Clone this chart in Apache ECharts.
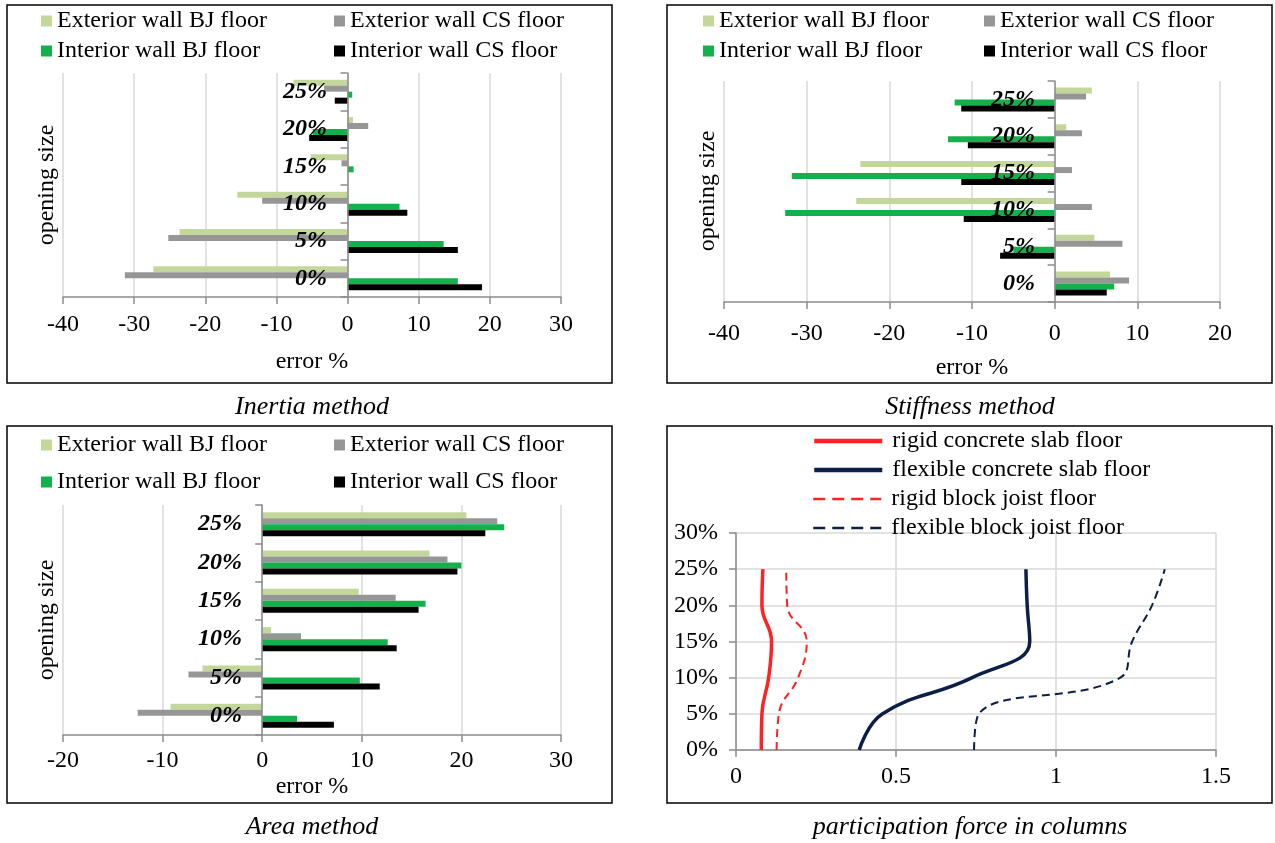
<!DOCTYPE html>
<html>
<head>
<meta charset="utf-8">
<script src="https://cdn.jsdelivr.net/npm/echarts@6/dist/echarts.min.js"></script>
<style>
html,body{margin:0;padding:0;background:#fff;}
#c{width:1275px;height:843px;}
</style>
</head>
<body>
<div id="c"></div>
<script>
// ---------- DATA ----------
var categories = ['0%', '5%', '10%', '15%', '20%', '25%'];
var seriesNames = ['Exterior wall BJ floor', 'Exterior wall CS floor', 'Interior wall BJ floor', 'Interior wall CS floor'];

// Inertia method (error %)
var inertiaExtBJ = [-27.3, -23.6, -15.5, -5.2, 0.75, -7.6];
var inertiaExtCS = [-31.3, -25.2, -12.0, -0.85, 2.9, -3.3];
var inertiaIntBJ = [15.5, 13.5, 7.3, 0.85, -4.9, 0.65];
var inertiaIntCS = [18.9, 15.5, 8.4, 0.0, -5.4, -1.8];

// Stiffness method (error %)
var stiffExtBJ = [6.7, 4.8, -24.0, -23.5, 1.4, 4.5];
var stiffExtCS = [9.0, 8.2, 4.5, 2.1, 3.3, 3.8];
var stiffIntBJ = [7.2, -5.0, -32.6, -31.8, -12.9, -12.1];
var stiffIntCS = [6.3, -6.6, -11.0, -11.3, -10.5, -11.3];

// Area method (error %)
var areaExtBJ = [-9.2, -6.0, 0.9, 9.7, 16.8, 20.5];
var areaExtCS = [-12.5, -7.4, 3.9, 13.4, 18.6, 23.6];
var areaIntBJ = [3.5, 9.8, 12.6, 16.4, 20.0, 24.3];
var areaIntCS = [7.2, 11.8, 13.5, 15.7, 19.6, 22.4];

// Participation force in columns vs opening size (%)
var openingSizes = [0, 5, 10, 15, 20, 25];
var lineNames = ['rigid concrete slab floor', 'flexible concrete slab floor', 'rigid block joist floor', 'flexible block joist floor'];
var rigidCS = [0.079, 0.081, 0.102, 0.111, 0.081, 0.084];
var flexCS = [0.385, 0.458, 0.738, 0.918, 0.910, 0.906];
var rigidBJ = [0.127, 0.134, 0.194, 0.221, 0.160, 0.157];
var flexBJ = [0.744, 0.759, 1.201, 1.238, 1.300, 1.340];

// ---------- STYLE ----------
var FONT = '"Liberation Serif", "Times New Roman", serif';
var FS = 24;
var barColors = ['#c4d79b', '#969696', '#14b04c', '#000000'];
var gridColor = '#d9d9d9';
var axisColor = '#8c8c8c';

var panels = [
  {vals: [inertiaExtBJ, inertiaExtCS, inertiaIntBJ, inertiaIntCS], min: -40, max: 30,
   grid: {left: 63, right: 1275 - 561, top: 73, height: 224}, nameGap: 65, labelMargin: 16, catMargin: -264},
  {vals: [stiffExtBJ, stiffExtCS, stiffIntBJ, stiffIntCS], min: -40, max: 20,
   grid: {left: 724, right: 1275 - 1220, top: 81, height: 221}, nameGap: 66, labelMargin: 20, catMargin: -311},
  {vals: [areaExtBJ, areaExtCS, areaIntBJ, areaIntCS], min: -20, max: 30,
   grid: {left: 63, right: 1275 - 561, top: 505, height: 230}, nameGap: 52, labelMargin: 14, catMargin: -179}
];

var grids = [], xAxes = [], yAxes = [], series = [], legends = [];

panels.forEach(function (p, i) {
  grids.push(p.grid);
  xAxes.push({
    type: 'value', gridIndex: i, min: p.min, max: p.max, interval: 10,
    name: 'error %', nameLocation: 'middle', nameGap: p.nameGap,
    nameTextStyle: {fontFamily: FONT, fontSize: FS, color: '#000', verticalAlign: 'middle'},
    axisLine: {show: true, lineStyle: {color: axisColor, width: 1.5}},
    axisTick: {show: true, length: 7, lineStyle: {color: axisColor, width: 1.5}},
    axisLabel: {fontFamily: FONT, fontSize: FS, color: '#000', margin: p.labelMargin},
    splitLine: {show: true, lineStyle: {color: gridColor, width: 1.5}}
  });
  yAxes.push({
    type: 'category', gridIndex: i, data: categories, z: 10,
    axisLine: {show: true, onZero: true, lineStyle: {color: axisColor, width: 1.5}},
    axisTick: {show: true, length: 7, lineStyle: {color: axisColor, width: 1.5}},
    axisLabel: {fontFamily: FONT, fontSize: FS, fontWeight: 'bold', fontStyle: 'italic', color: '#000', margin: p.catMargin},
    splitLine: {show: false}
  });
  for (var s = 0; s < 4; s++) {
    series.push({
      type: 'bar', name: seriesNames[s], xAxisIndex: i, yAxisIndex: i,
      data: p.vals[s], barWidth: 6, barGap: '0%',
      itemStyle: {color: barColors[s]}
    });
  }
});

// legends for bar panels (2 columns x 2 rows)
var legendPos = [
  [[41, 21], [334, 21], [41, 51], [334, 51]],
  [[703, 21], [984, 21], [703, 51], [984, 51]],
  [[41, 445], [334, 445], [41, 482], [334, 482]]
];
legendPos.forEach(function (pos) {
  pos.forEach(function (xy, k) {
    legends.push({
      data: [seriesNames[k]], left: xy[0], top: xy[1] - 12, padding: 0,
      itemWidth: 11, itemHeight: 11, icon: 'rect', selectedMode: false,
      textStyle: {fontFamily: FONT, fontSize: FS, color: '#000', lineHeight: 24}
    });
  });
});

// line panel
grids.push({left: 736, right: 1275 - 1216, top: 533, bottom: 843 - 750});
xAxes.push({
  type: 'value', gridIndex: 3, min: 0, max: 1.5, interval: 0.5,
  axisLine: {show: true, lineStyle: {color: axisColor, width: 1.5}},
  axisTick: {show: true, length: 7, lineStyle: {color: axisColor, width: 1.5}},
  axisLabel: {fontFamily: FONT, fontSize: FS, color: '#000', margin: 15},
  splitLine: {show: true, lineStyle: {color: gridColor, width: 1.5}}
});
yAxes.push({
  type: 'value', gridIndex: 3, min: 0, max: 30, interval: 5,
  axisLine: {show: true, lineStyle: {color: axisColor, width: 1.5}},
  axisTick: {show: true, length: 7, lineStyle: {color: axisColor, width: 1.5}},
  axisLabel: {fontFamily: FONT, fontSize: FS, color: '#000', margin: 18, formatter: '{value}%'},
  splitLine: {show: true, lineStyle: {color: gridColor, width: 1.5}}
});
var lineSets = [rigidCS, flexCS, rigidBJ, flexBJ];
var lineColors = ['#ff2222', '#0c1f48', '#ff2222', '#0c1f48'];
var lineTypes = ['solid', 'solid', [8, 5], [8, 5]];
var lineWidths = [3.5, 3.5, 2, 2];
var legendWidths = [4.5, 4.5, 2.5, 2.5];
var legendTypes = ['solid', 'solid', [12, 7], [12, 7]];
lineSets.forEach(function (vals, k) {
  series.push({
    type: 'line', name: lineNames[k], xAxisIndex: 3, yAxisIndex: 3,
    data: vals.map(function (v, j) { return [v, openingSizes[j]]; }),
    symbol: 'none', showSymbol: false, smooth: 0.45,
    lineStyle: {color: lineColors[k], width: lineWidths[k], type: lineTypes[k]},
    itemStyle: {color: lineColors[k]}
  });
});
var lineLegendRows = [441, 470, 499, 528];
lineNames.forEach(function (n, k) {
  legends.push({
    data: [n], left: 812, top: lineLegendRows[k] - 12, padding: 0,
    itemWidth: 68, itemHeight: 12, selectedMode: false,
    itemStyle: {opacity: 0},
    lineStyle: {width: legendWidths[k], type: legendTypes[k], color: lineColors[k]},
    textStyle: {fontFamily: FONT, fontSize: FS, color: '#000', lineHeight: 24, padding: [0, 0, 0, 5]}
  });
});

// frames, titles, rotated axis names
var graphics = [
  {type: 'rect', shape: {x: 7, y: 5, width: 605, height: 378}, style: {fill: null, stroke: '#000', lineWidth: 1.5}},
  {type: 'rect', shape: {x: 667, y: 5, width: 605, height: 378}, style: {fill: null, stroke: '#000', lineWidth: 1.5}},
  {type: 'rect', shape: {x: 7, y: 426, width: 605, height: 377}, style: {fill: null, stroke: '#000', lineWidth: 1.5}},
  {type: 'rect', shape: {x: 667, y: 426, width: 605, height: 377}, style: {fill: null, stroke: '#000', lineWidth: 1.5}}
];
var titles = [['Inertia method', 312, 407], ['Stiffness method', 970, 407], ['Area method', 312, 827], ['participation force in columns', 970, 827]];
titles.forEach(function (t) {
  graphics.push({type: 'text', x: t[1], y: t[2], style: {text: t[0], font: 'italic 26px ' + FONT, fill: '#000', textAlign: 'center', textVerticalAlign: 'middle'}});
});
var yNames = [[47, 185], [708, 191], [47, 620]];
yNames.forEach(function (t) {
  graphics.push({type: 'text', x: t[0], y: t[1], rotation: Math.PI / 2, style: {text: 'opening size', font: FS + 'px ' + FONT, fill: '#000', textAlign: 'center', textVerticalAlign: 'middle'}});
});

var chart = echarts.init(document.getElementById('c'), null, {renderer: 'canvas'});
chart.setOption({
  animation: false,
  backgroundColor: '#fff',
  grid: grids,
  xAxis: xAxes,
  yAxis: yAxes,
  legend: legends,
  series: series,
  graphic: graphics
});
</script>
</body>
</html>
